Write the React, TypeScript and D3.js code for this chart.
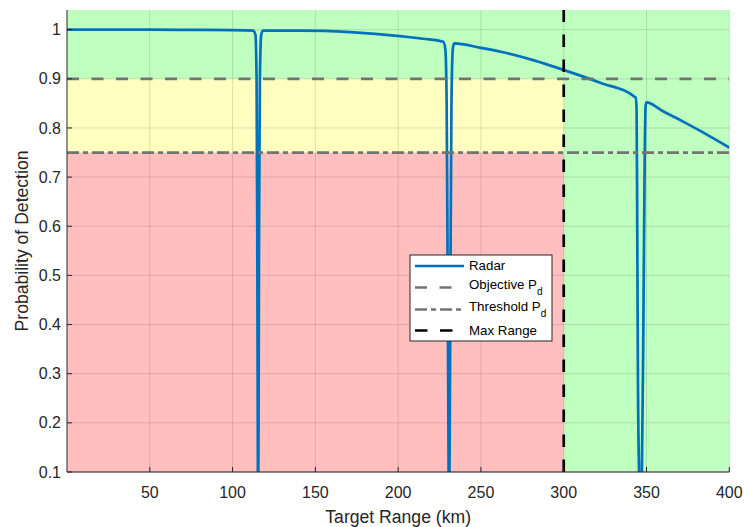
import React from "react";
import * as d3 from "d3";

// ---- Data ----
const rangeKm = [
  0, 25, 50, 75, 100, 112.5,
  113.8, 114.5, 114.9, 115.2, 115.4, 115.7, 116.0, 116.5, 117.3,
  118.5, 141, 171, 201, 215, 227.3,
  228.5, 229.3, 229.9, 230.4, 230.7, 231.1, 231.6, 232.2, 233.0,
  233.8, 250, 262, 281.5, 300, 322, 343.4,
  344.0, 344.4, 344.8, 345.5, 346.3, 347.2, 348.0, 348.8, 349.4,
  349.8, 360, 371, 383, 400,
];
const pdValues = [
  1.0, 1.0, 1.0, 0.9995, 0.999, 0.998,
  0.99, 0.9, 0.6, 0.2, 0.0, 0.2, 0.6, 0.9, 0.99,
  0.998, 0.998, 0.995, 0.987, 0.9815, 0.9754,
  0.96, 0.85, 0.5, 0.15, 0.0, 0.15, 0.5, 0.85, 0.96,
  0.972, 0.963, 0.955, 0.938, 0.918, 0.892, 0.862,
  0.84, 0.6, 0.3, 0.1, 0.0, 0.1, 0.35, 0.7, 0.84,
  0.852, 0.834, 0.815, 0.793, 0.76,
];
const xTicks = [50, 100, 150, 200, 250, 300, 350, 400];
const yTicks = [0.1, 0.2, 0.3, 0.4, 0.5, 0.6, 0.7, 0.8, 0.9, 1.0];
const xDomain = [0, 400];
const yDomain = [0.1, 1.04];
const objectivePd = 0.9;
const thresholdPd = 0.75;
const maxRangeKm = 300;
const legendLabels = ["Radar", "Objective P", "Threshold P", "Max Range"];

// ---- Layout ----
const W = 745, H = 527;
const left = 67, right = 729.3, top = 10, bottom = 472;
const FONT = "'Liberation Sans', Arial, Helvetica, sans-serif";
const AX = "#262626";
const BLUE = "#0072BD";
const GRAY = "#737373";

export default function App() {
  const x = d3.scaleLinear().domain(xDomain).range([left, right]);
  const y = d3.scaleLinear().domain(yDomain).range([bottom, top]);
  const pts: [number, number][] = rangeKm.map((r, i) => [r, pdValues[i]]);
  const line = d3.line<[number, number]>().x(d => x(d[0])).y(d => y(d[1])).curve(d3.curveMonotoneX);

  const dashObj = "12,12.5";
  const dashThr = "12,4,5,4";
  const dashMax = "12.5,12.5";

  const legX = 410, legY = 255, legW = 142, legH = 86;
  const rowY = [266, 287.5, 309.5, 330.5];
  const sampleX0 = 415, sampleX1 = 464, textX = 469;

  return (
    <svg width={W} height={H} style={{ position: "absolute", left: 0, top: 0, background: "#fff" }} fontFamily={FONT}>
      <defs>
        <clipPath id="plotClip">
          <rect x={left} y={top} width={right - left} height={bottom - top} />
        </clipPath>
      </defs>
      {/* zones */}
      <rect x={left} y={top} width={right - left} height={bottom - top} fill="#bfffbf" />
      <rect x={x(xDomain[0])} y={y(objectivePd)} width={x(maxRangeKm) - x(xDomain[0])}
        height={y(thresholdPd) - y(objectivePd)} fill="#ffffbf" />
      <rect x={x(xDomain[0])} y={y(thresholdPd)} width={x(maxRangeKm) - x(xDomain[0])}
        height={y(yDomain[0]) - y(thresholdPd)} fill="#ffbfbf" />
      {/* grid */}
      <g stroke={AX} strokeOpacity={0.15} strokeWidth={1}>
        {xTicks.map(t => <line key={"gx" + t} x1={x(t)} x2={x(t)} y1={top} y2={bottom} />)}
        {yTicks.map(t => <line key={"gy" + t} x1={left} x2={right} y1={y(t)} y2={y(t)} />)}
      </g>
      {/* radar curve and reference lines */}
      <g clipPath="url(#plotClip)">
        <path d={line(pts) || ""} fill="none" stroke={BLUE} strokeWidth={2.7} strokeLinejoin="round" />
        <line x1={left} x2={right} y1={y(objectivePd)} y2={y(objectivePd)} stroke={GRAY} strokeWidth={2.7} strokeDasharray={dashObj} />
        <line x1={left} x2={right} y1={y(thresholdPd)} y2={y(thresholdPd)} stroke={GRAY} strokeWidth={2.7} strokeDasharray={dashThr} />
        <line x1={x(maxRangeKm)} x2={x(maxRangeKm)} y1={bottom} y2={top} stroke="#000" strokeWidth={2.7} strokeDasharray={dashMax} />
      </g>
      {/* axes */}
      <g stroke={AX} strokeWidth={1}>
        <line x1={left} x2={right} y1={bottom} y2={bottom} />
        <line x1={left} x2={left} y1={top} y2={bottom} />
        {xTicks.map(t => <line key={"tx" + t} x1={x(t)} x2={x(t)} y1={bottom} y2={bottom - 5} />)}
        {yTicks.map(t => <line key={"ty" + t} x1={left} x2={left + 5} y1={y(t)} y2={y(t)} />)}
      </g>
      <g fill={AX} fontSize={16}>
        {xTicks.map(t => (
          <text key={"lx" + t} x={x(t)} y={498} textAnchor="middle">{t}</text>
        ))}
        {yTicks.map(t => (
          <text key={"ly" + t} x={left - 6} y={y(t)} dy="0.35em" textAnchor="end">{d3.format("~g")(t)}</text>
        ))}
      </g>
      <text x={(left + right) / 2} y={523} textAnchor="middle" fontSize={17.6} fill={AX}>Target Range (km)</text>
      <text transform={`translate(${28},${(top + bottom) / 2}) rotate(-90)`} textAnchor="middle" fontSize={17.6} fill={AX}>Probability of Detection</text>
      {/* legend */}
      <rect x={legX} y={legY} width={legW} height={legH} fill="#fff" stroke={AX} strokeWidth={1} />
      <line x1={sampleX0} x2={sampleX1} y1={rowY[0]} y2={rowY[0]} stroke={BLUE} strokeWidth={2.7} />
      <line x1={sampleX0} x2={sampleX1} y1={rowY[1]} y2={rowY[1]} stroke={GRAY} strokeWidth={2.7} strokeDasharray={dashObj} />
      <line x1={sampleX0} x2={sampleX1} y1={rowY[2]} y2={rowY[2]} stroke={GRAY} strokeWidth={2.7} strokeDasharray={dashThr} />
      <line x1={sampleX0} x2={sampleX1} y1={rowY[3]} y2={rowY[3]} stroke="#000" strokeWidth={2.7} strokeDasharray={dashMax} />
      <g fontSize={13.3} fill="#000">
        <text x={textX} y={rowY[0] - 1} dy="0.35em">{legendLabels[0]}</text>
        <text x={textX} y={rowY[1] - 3} dy="0.35em">{legendLabels[1]}<tspan fontSize={10} dy={6}>d</tspan></text>
        <text x={textX} y={rowY[2] - 3} dy="0.35em">{legendLabels[2]}<tspan fontSize={10} dy={6}>d</tspan></text>
        <text x={textX} y={rowY[3]} dy="0.35em">{legendLabels[3]}</text>
      </g>
    </svg>
  );
}
